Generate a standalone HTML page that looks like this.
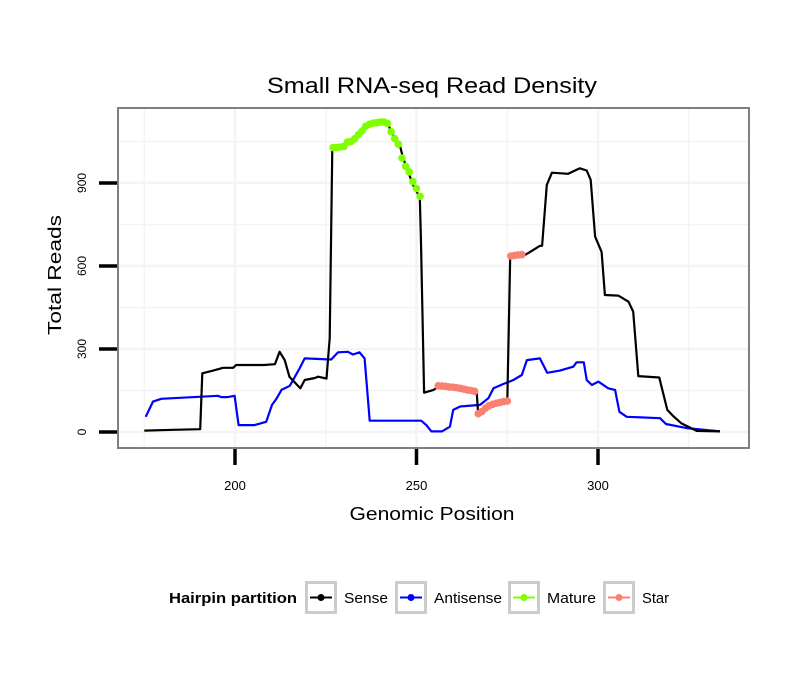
<!DOCTYPE html>
<html><head><meta charset="utf-8"><style>
body{margin:0;background:#fff}
svg text{font-family:"Liberation Sans",sans-serif}
</style></head><body>
<svg id="chart" width="810" height="690" viewBox="0 0 810 690" xmlns="http://www.w3.org/2000/svg">
<rect width="810" height="690" fill="#fff"/>
<text x="432" y="93" font-size="22" text-anchor="middle" textLength="330" lengthAdjust="spacingAndGlyphs">Small RNA-seq Read Density</text>
<g id="grid"></g>
<g id="series"></g>
<rect x="118" y="108" width="631" height="340" fill="none" stroke="#7f7f7f" stroke-width="2"/>
<g id="axes"></g>
<text x="432" y="520" font-size="18" text-anchor="middle" textLength="165" lengthAdjust="spacingAndGlyphs">Genomic Position</text>
<text transform="translate(61,275) rotate(-90)" font-size="18" text-anchor="middle" textLength="120" lengthAdjust="spacingAndGlyphs">Total Reads</text>
<g id="legend">
<text x="169" y="603" font-size="15" font-weight="bold" textLength="128" lengthAdjust="spacingAndGlyphs">Hairpin partition</text>
</g>
</svg>
<script>
const xTicks=[200,250,300];
const yTicks=[0,300,600,900];
const senseX=[175,183,190.4,191,194,196.7,199.5,200.3,208,211,212.3,213.7,215,218,219.2,222,222.9,225.2,226.1,226.8,230,231,233,234,235,236,237,238,240,241,242,243,245.4,246.3,247.7,249,250.9,251.2,252.1,254.7,256,260,264,266.6,267,269,272,275,275.8,279.9,281.3,284,284.6,285.9,287.3,291.8,295,296.9,298,299.2,301,301.9,305.6,308.4,309.7,311.1,316.9,317.5,319.1,320.7,323,327.2,333.6];
const senseY=[5,8,10,212,222,232,232,242,242,245,290,260,200,158,188,195,200,193,339,1025,1030,1049,1060,1080,1090,1110,1115,1118,1120,1120,1118,1085,1037,990,941,893,848,700,142,152,164,160,152,140,61,85,100,110,634,640,651,673,673,893,937,933,953,945,911,706,651,495,493,471,435,202,197,164,80,58,31,4,2];
const antiX=[175.4,177.4,179.7,195.3,196.2,198,199.9,201,205.4,208.6,210.2,211.4,212.8,215.1,217.8,219.2,226.5,228.4,231.1,232.5,234.3,235.7,237.1,251.3,252.7,254.1,257,259.2,260.1,262,267.5,269.8,271.2,274,276.7,279,280.4,284,286,289.5,293.2,294.1,296.1,296.9,298.3,300.1,302.8,304.7,305.9,307.9,317.1,318.7,324.4,333.6];
const antiY=[55,110,120,131,126,126,131,25,25,37,98,120,152,167,230,266,262,288,290,280,288,266,41,41,25,2,2,19,80,92,98,122,158,174,188,206,260,266,214,222,236,252,252,188,170,182,158,152,73,55,50,29,14,2];
const matureX=[227,228,229,230,231,232,233,234,235,236,237,238,239,240,241,242,243,244,245,246,247,248,249,250,251];
const matureY=[1028,1028,1030,1032,1048,1050,1060,1075,1088,1105,1112,1116,1118,1120,1120,1115,1085,1060,1040,990,960,940,905,880,852];
const starX=[256,257,258,259,260,261,262,263,264,265,266,267,268,269,270,271,272,273,274,275,276,277,278,279];
const starY=[167,166,165,163,162,160,158,155,152,150,147,66,74,86,95,100,104,107,110,112,636,638,640,641];
const X=v=>235+(v-200)*3.63;
const Y=v=>432-v*0.2767;
const NS="http://www.w3.org/2000/svg";
function mk(tag,attrs,parent){const e=document.createElementNS(NS,tag);for(const k in attrs)e.setAttribute(k,attrs[k]);parent.appendChild(e);return e;}
const grid=document.getElementById('grid'),ser=document.getElementById('series'),ax=document.getElementById('axes'),leg=document.getElementById('legend');
[175,200,225,250,275,300,325].forEach(v=>{const l=mk('line',{x1:X(v),x2:X(v),y1:108,y2:448,stroke:'#f4f4f4','stroke-width':v%50===0?2.5:1.5},grid);

});
[0,150,300,450,600,750,900,1050].forEach(v=>{const l=mk('line',{x1:118,x2:749,y1:Y(v),y2:Y(v),stroke:'#f4f4f4','stroke-width':v%300===0?2.5:1.5},grid);

});
function path(xs,ys,color,name){const d=xs.map((x,i)=>(i?'L':'M')+X(x).toFixed(1)+','+Y(ys[i]).toFixed(1)).join('');
const p=mk('path',{d:d,fill:'none',stroke:color,'stroke-width':2.2,'stroke-linejoin':'round'},ser);

}
path(antiX,antiY,'#0000ff','antisense-line');
path(senseX,senseY,'#000','sense-line');
function pts(xs,ys,color,name){xs.forEach((x,i)=>{const c=mk('circle',{cx:X(x),cy:Y(ys[i]),r:3.8,fill:color},ser);

});}
pts(matureX,matureY,'#7fff00','mature-point');
pts(starX,starY,'#fa8072','star-point');
xTicks.forEach(v=>{const t=mk('line',{x1:X(v),x2:X(v),y1:449,y2:465,stroke:'#000','stroke-width':3.5},ax);


const s=mk('text',{x:X(v),y:490,'font-size':13,'text-anchor':'middle'},ax);s.textContent=v;

});
yTicks.forEach(v=>{const t=mk('line',{x1:99,x2:117,y1:Y(v),y2:Y(v),stroke:'#000','stroke-width':3.5},ax);


const s=mk('text',{transform:`translate(86,${Y(v)}) rotate(-90)`,'font-size':12,'text-anchor':'middle'},ax);s.textContent=v;

});
const legNames=['Sense','Antisense','Mature','Star'];
const legColors=['#000','#0000ff','#7fff00','#fa8072'];
const legX=[305,395,508,603];
const legW=[44,68,49,27];
legNames.forEach((n,i)=>{const g=mk('g',{},leg);


mk('rect',{x:legX[i]+1.5,y:582.5,width:29,height:30,fill:'#fff',stroke:'#cccccc','stroke-width':3},g);
mk('line',{x1:legX[i]+5,x2:legX[i]+27,y1:597.5,y2:597.5,stroke:legColors[i],'stroke-width':2},g);
mk('circle',{cx:legX[i]+16,cy:597.5,r:3.5,fill:legColors[i]},g);
const t=mk('text',{x:legX[i]+39,y:603,'font-size':15,textLength:legW[i],lengthAdjust:'spacingAndGlyphs'},g);t.textContent=n;});
</script>
</body></html>
